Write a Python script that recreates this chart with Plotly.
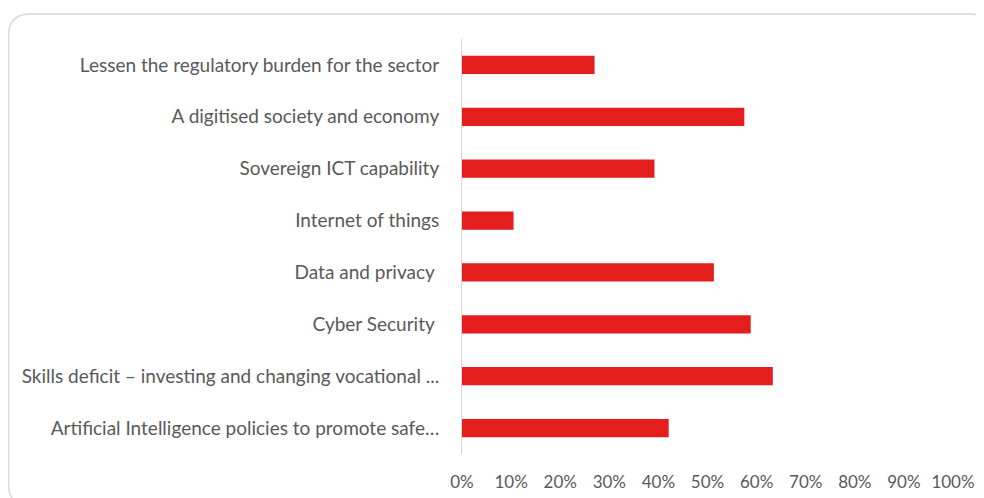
import plotly.graph_objects as go

categories = [
    "Lessen the regulatory burden for the sector",
    "A digitised society and economy",
    "Sovereign ICT capability",
    "Internet of things",
    "Data and privacy\u00a0",
    "Cyber Security\u00a0",
    "Skills deficit \u2013 investing and changing vocational ...",
    "Artificial Intelligence policies to promote safe\u2026",
]
values = [0.27, 0.575, 0.392, 0.105, 0.513, 0.588, 0.633, 0.421]
x_ticks = [0, 0.1, 0.2, 0.3, 0.4, 0.5, 0.6, 0.7, 0.8, 0.9, 1.0]
x_tick_labels = ["0%", "10%", "20%", "30%", "40%", "50%", "60%", "70%", "80%", "90%", "100%"]

# page body adds an 8px margin; compensate
OFF = 8
W, H = 984 - OFF, 498 - OFF
ml, mr, mt, mb = 462 - OFF, 31, 39 - OFF, 44

fig = go.Figure(go.Bar(
    x=values, y=categories, orientation="h",
    marker=dict(color="#E31E1C", line=dict(width=0)),
    width=0.35,
))

FONT = "Lato, Carlito, Open Sans, sans-serif"
fig.update_layout(
    width=W, height=H,
    margin=dict(l=ml, r=mr, t=mt, b=mb, pad=0, autoexpand=False),
    paper_bgcolor="white", plot_bgcolor="white",
    font=dict(family=FONT, size=18, color="#595959"),
    showlegend=False,
    bargap=0.65,
)
fig.update_yaxes(
    categoryorder="array", categoryarray=categories[::-1],
    showgrid=False, showline=True, linecolor="#D9D9D9", linewidth=1,
    ticks="", ticklabelstandoff=18, tickfont=dict(family=FONT, size=19, color="#595959"),
    range=[-0.5, len(categories) - 0.5], automargin=False,
)
fig.update_xaxes(
    range=[0, 1], tickvals=x_ticks, ticktext=x_tick_labels,
    showgrid=False, zeroline=False, showline=False, ticks="",
    ticklabelstandoff=16, tickfont=dict(family=FONT, size=17, color="#595959"),
    automargin=False,
)

# rounded border frame (page pixel coords converted to paper)
pw, ph = W - ml - mr, H - mt - mb
def px(x):
    return (x - OFF - ml) / pw
def py(y):
    return 1 - (y - OFF - mt) / ph
x0, y0, x1, y1, r = 8.5, 14, 992, 506, 22
path = (f"M {px(x0 + r)} {py(y0)} L {px(x1 - r)} {py(y0)} "
        f"Q {px(x1)} {py(y0)} {px(x1)} {py(y0 + r)} L {px(x1)} {py(y1 - r)} "
        f"Q {px(x1)} {py(y1)} {px(x1 - r)} {py(y1)} L {px(x0 + r)} {py(y1)} "
        f"Q {px(x0)} {py(y1)} {px(x0)} {py(y1 - r)} L {px(x0)} {py(y0 + r)} "
        f"Q {px(x0)} {py(y0)} {px(x0 + r)} {py(y0)} Z")
fig.add_shape(type="path", path=path, xref="paper", yref="paper",
              line=dict(color="#D9D9D9", width=1.5), layer="below")

fig.write_html("out.html")
